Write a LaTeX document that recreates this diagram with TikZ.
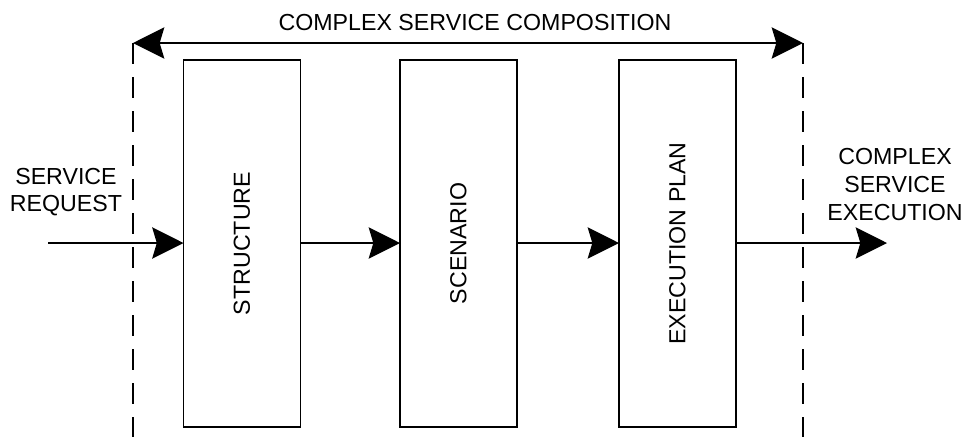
\documentclass[tikz,border=0pt]{standalone}
\usepackage{fontspec}
\setmainfont{Liberation Sans}
\usetikzlibrary{arrows.meta}

\begin{document}
\begin{tikzpicture}[
    x=0.75pt, y=-0.75pt,
    every node/.style={font=\fontsize{17.4}{20.8}\selectfont, inner sep=0pt, outer sep=0pt},
    line/.style={line width=1.1pt, line cap=butt},
    tip/.style={-{Stealth[length=23.5pt, width=23.5pt, inset=3.5pt]}},
    twotip/.style={{Stealth[length=23.5pt, width=23.5pt, inset=3.5pt]}-{Stealth[length=23.5pt, width=23.5pt, inset=3.5pt]}},
    stagebox/.style={draw, line width=1.1pt, minimum width=87.75pt, minimum height=275.25pt},
    boundary/.style={line width=1.1pt, dash pattern=on 15.75pt off 9.75pt},
    caption/.style={align=center},
  ]
  \useasboundingbox (0,0) rectangle (965,437);

  % boundary of the composition
  \coordinate (lt) at (133,43);
  \coordinate (lb) at (133,437);
  \coordinate (rt) at (803,43);
  \coordinate (rb) at (803,437);
  \draw[boundary] (lt) -- (lb);
  \draw[boundary] (rt) -- (rb);
  \draw[line, twotip] (lt) -- (rt);
  \node (title) at (475,23) {COMPLEX SERVICE COMPOSITION};

  % the three stages
  \node[stagebox] (structure) at (242,243.5) {};
  \node[stagebox] (scenario)  at (458.5,243.5) {};
  \node[stagebox] (plan)      at (677.5,243.5) {};
  \node[rotate=90] (structuretxt) at (structure) {STRUCTURE};
  \node[rotate=90] (scenariotxt)  at (scenario)  {SCENARIO};
  \node[rotate=90] (plantxt)      at (plan)      {EXECUTION PLAN};

  % input and output
  \coordinate (in) at (48,243);
  \coordinate (out) at (887,243);
  \node[caption] (request) at (66,192) {SERVICE\\REQUEST};
  \node[caption] (execution) at (895,184.5) {COMPLEX\\SERVICE\\EXECUTION};

  \draw[line, tip] (in) -- (in -| structure.west);
  \draw[line, tip] (structure.east |- in) -- (scenario.west |- in);
  \draw[line, tip] (scenario.east |- in) -- (plan.west |- in);
  \draw[line, tip] (plan.east |- in) -- (out);
\end{tikzpicture}
\end{document}
